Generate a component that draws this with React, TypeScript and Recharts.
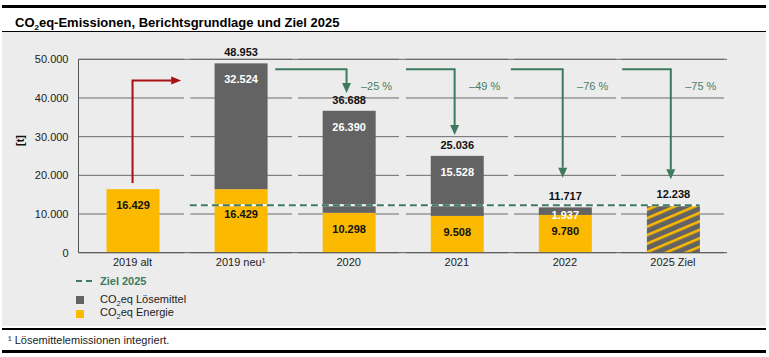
import React from 'react';
import { BarChart, Bar, XAxis, YAxis, CartesianGrid, ReferenceLine } from 'recharts';

// ---------- data ----------
const categories = ['2019 alt', '2019 neu¹', '2020', '2021', '2022', '2025 Ziel'];
const energie = [16429, 16429, 10298, 9508, 9780, null];
const loesemittel = [null, 32524, 26390, 15528, 1937, null];
const ziel2025 = [null, null, null, null, null, 12238];
const totals = [null, 48953, 36688, 25036, 11717, 12238];
const zielLine = 12238;
const yTicks = [0, 10000, 20000, 30000, 40000, 50000];
const reductionLabels = ['–25 %', '–49 %', '–76 %', '–75 %'];

// ---------- styles ----------
const FONT = '"Liberation Sans", Arial, Helvetica, sans-serif';
const YELLOW = '#fbb900';
const GRAY = '#636363';
const GREEN = '#3e7a5d';
const GREEN_TEXT = '#4a7d64';
const RED = '#a80f0f';
const PANEL = '#ececec';
const GRID = '#6a6a6a';

const fmt = (n: number) => String(n).replace(/\B(?=(\d{3})+(?!\d))/g, '.');

const chartData = categories.map((name, i) => ({
  name,
  energie: energie[i],
  loesemittel: loesemittel[i],
  ziel: ziel2025[i],
  total: totals[i],
}));

// annotation geometry: anchored to categories; offsets in fractions of a category band
const redArrow = { from: 0, to: 1, yStart: 18000, yTop: 44500, tipFrac: 0.45 };
const greenArrows = [
  { from: 1, to: 2, yTop: 47400, yTip: 41300, startFrac: 0.32 },
  { from: 2, to: 3, yTop: 47400, yTip: 30400, startFrac: 0.53 },
  { from: 3, to: 4, yTop: 47400, yTip: 19400, startFrac: 0.5 },
  { from: 4, to: 5, yTop: 47400, yTip: 19000, startFrac: 0.53 },
];

const norm = (p: any) => {
  const top = Math.min(p.y, p.y + p.height);
  const h = Math.abs(p.height);
  return { x: p.x, top, h, w: p.width };
};

const valid = (...v: any[]) => v.every((n) => typeof n === 'number' && !isNaN(n));

function EnergieShape(props: any) {
  const { payload } = props;
  if (!payload || payload.energie == null || !(Math.abs(props.height) > 0)) return null;
  const { x, top, h, w } = norm(props);
  // pixel position of the target line, from this bar's own scale
  const base = top + h;
  const lineY = base - (zielLine * h) / payload.energie;
  const crossed = payload.loesemittel != null && lineY > top;
  let cy = top + 16;
  if (crossed && Math.abs(cy - lineY) < 9) cy = lineY + 9;
  return (
    <g>
      <rect x={x} y={top} width={w} height={h} fill={YELLOW} />
      <text x={x + w / 2} y={cy + 4} textAnchor="middle" fontSize={11}
        fontWeight="bold" fill="#111" fontFamily={FONT}>{fmt(payload.energie)}</text>
    </g>
  );
}

function LoesemittelShape(props: any) {
  const { payload } = props;
  if (!payload || payload.loesemittel == null || !(Math.abs(props.height) > 0)) return null;
  const { x, top, h, w } = norm(props);
  return (
    <g>
      <rect x={x} y={top} width={w} height={h} fill={GRAY} />
      <text x={x + w / 2} y={top + Math.min(16, h) + 4} textAnchor="middle" fontSize={11}
        fontWeight="bold" fill="#fff" fontFamily={FONT}>{fmt(payload.loesemittel)}</text>
      {payload.total != null && (
        <text x={x + w / 2} y={top - 7} textAnchor="middle" fontSize={11}
          fontWeight="bold" fill="#111" fontFamily={FONT}>{fmt(payload.total)}</text>
      )}
    </g>
  );
}

function ZielShape(props: any) {
  const { payload } = props;
  if (!payload || payload.ziel == null || !(Math.abs(props.height) > 0)) return null;
  const { x, top, h, w } = norm(props);
  return (
    <g>
      <defs>
        <pattern id="hatchZiel" patternUnits="userSpaceOnUse" width="10" height="7.8"
          patternTransform="rotate(-23)">
          <rect x="0" y="0" width="10" height="7.8" fill={GRAY} />
          <rect x="0" y="0" width="10" height="2.6" fill={YELLOW} />
        </pattern>
      </defs>
      <rect x={x} y={top} width={w} height={h} fill="url(#hatchZiel)" />
      <text x={x + w / 2} y={top - 7} textAnchor="middle" fontSize={11}
        fontWeight="bold" fill="#111" fontFamily={FONT}>{fmt(payload.ziel)}</text>
    </g>
  );
}

const downArrow = (label: string, startFrac: number) => (p: any) => {
  const { x1, y1, x2, y2 } = p;
  if (!valid(x1, y1, x2, y2)) return null;
  const band = x2 - x1;
  const sx = x1 + startFrac * band;
  const cx = x2 - 0.02 * band;
  const hl = 10, hw = 4.5;
  return (
    <g>
      <path d={`M${sx},${y1} H${cx} V${y2 - hl}`} stroke={GREEN} strokeWidth={2} fill="none" />
      <polygon points={`${cx - hw},${y2 - hl} ${cx + hw},${y2 - hl} ${cx},${y2}`} fill={GREEN} />
      <text x={cx + 30} y={y1 + 21} textAnchor="middle" fontSize={11} fill={GREEN_TEXT}
        fontFamily={FONT}>{label}</text>
    </g>
  );
};

const upRightArrow = (tipFrac: number) => (p: any) => {
  const { x1, y1, x2, y2 } = p;
  if (!valid(x1, y1, x2, y2)) return null;
  const tx = x1 + tipFrac * (x2 - x1);
  const hl = 10, hw = 4;
  return (
    <g>
      <path d={`M${x1},${y1} V${y2} H${tx - hl}`} stroke={RED} strokeWidth={2} fill="none" />
      <polygon points={`${tx - hl},${y2 - hw} ${tx - hl},${y2 + hw} ${tx},${y2}`} fill={RED} />
    </g>
  );
};

const zielLineShape = (p: any) => {
  const { x1, y1, x2 } = p;
  if (!valid(x1, y1, x2)) return null;
  const band = (x2 - x1) / 4;
  const sx = x1 - 0.47 * band;
  const ex = x2 + 0.245 * band;
  return (
    <g>
      <line x1={sx} y1={y1} x2={ex} y2={y1} stroke="#ffffff" strokeWidth={2} />
      <line x1={sx} y1={y1} x2={ex} y2={y1} stroke={GREEN} strokeWidth={2} strokeDasharray="7 4" />
    </g>
  );
};

const Sub = ({ size = 7.5, top = 3 }: { size?: number; top?: number }) => (
  <span style={{ fontSize: size, position: 'relative', top, lineHeight: 0 }}>2</span>
);

export default function App() {
  return (
    <div style={{ position: 'absolute', left: 0, top: 0, width: 769, height: 357, background: '#fff', fontFamily: FONT, overflow: 'hidden' }}>
      {/* frame */}
      <div style={{ position: 'absolute', left: 2, top: 5, width: 764, height: 3, background: '#000' }} />
      <div style={{ position: 'absolute', left: 15, top: 14.5, fontSize: 13, lineHeight: '15px', fontWeight: 'bold', color: '#000', whiteSpace: 'nowrap' }}>
        CO<Sub size={8} top={3} />eq-Emissionen, Berichtsgrundlage und Ziel 2025
      </div>
      <div style={{ position: 'absolute', left: 2, top: 31, width: 764, height: 1, background: '#000' }} />
      <div style={{ position: 'absolute', left: 2, top: 32, width: 764, height: 294, background: PANEL }} />
      <div style={{ position: 'absolute', left: 2, top: 328, width: 764, height: 1.5, background: '#000' }} />
      <div style={{ position: 'absolute', left: 8, top: 333.6, fontSize: 11, lineHeight: '13px', color: '#222', whiteSpace: 'nowrap' }}>
        ¹ Lösemittelemissionen integriert.
      </div>
      <div style={{ position: 'absolute', left: 2, top: 350, width: 764, height: 3, background: '#000' }} />

      {/* y label */}
      <div style={{ position: 'absolute', left: 9.5, top: 133.5, width: 20, height: 13, lineHeight: '13px', fontSize: 11, fontWeight: 'bold', textAlign: 'center', transform: 'rotate(-90deg)', color: '#111' }}>
        [t]
      </div>

      {/* chart */}
      <div style={{ position: 'absolute', left: 0, top: 0 }}>
        <BarChart width={769} height={357} data={chartData} barSize={53}
          margin={{ top: 59.3, right: 42, bottom: 74.3, left: 18 }}>
          <CartesianGrid vertical={false} stroke={GRID}
            strokeDasharray="105.5 6.5 101.5 6 101 7 102 6 102 5 103 20" />
          <XAxis dataKey="name" tickLine={false} axisLine={{ stroke: '#555' }}
            tickSize={3} tickMargin={2} interval={0}
            tick={{ fill: '#222', fontSize: 11, fontFamily: FONT }} />
          <YAxis domain={[0, 50000]} ticks={yTicks} width={60.5} tickLine={false}
            tickSize={6} tickMargin={4} axisLine={{ stroke: '#555' }}
            tickFormatter={(v: number) => fmt(v)}
            tick={{ fill: '#222', fontSize: 11, fontFamily: FONT }} />
          <Bar dataKey="energie" stackId="a" fill={YELLOW} shape={EnergieShape} isAnimationActive={false} />
          <Bar dataKey="loesemittel" stackId="a" fill={GRAY} shape={LoesemittelShape} isAnimationActive={false} />
          <Bar dataKey="ziel" stackId="a" fill={GRAY} shape={ZielShape} isAnimationActive={false} />
          <ReferenceLine y={50000} stroke={GRID} strokeWidth={1} />
          <ReferenceLine
            segment={[{ x: categories[1], y: zielLine }, { x: categories[5], y: zielLine }]}
            shape={zielLineShape} ifOverflow="visible" />
          <ReferenceLine
            segment={[{ x: categories[redArrow.from], y: redArrow.yStart }, { x: categories[redArrow.to], y: redArrow.yTop }]}
            shape={upRightArrow(redArrow.tipFrac)} ifOverflow="visible" />
          {greenArrows.map((a, i) => (
            <ReferenceLine key={i}
              segment={[{ x: categories[a.from], y: a.yTop }, { x: categories[a.to], y: a.yTip }]}
              shape={downArrow(reductionLabels[i], a.startFrac)} ifOverflow="visible" />
          ))}
        </BarChart>
      </div>

      {/* legend */}
      <svg style={{ position: 'absolute', left: 76, top: 279.7 }} width={16} height={2}>
        <line x1={0} y1={1} x2={16} y2={1} stroke={GREEN} strokeWidth={2} strokeDasharray="6 4" />
      </svg>
      <div style={{ position: 'absolute', left: 100, top: 274.6, fontSize: 11, lineHeight: '13px', fontWeight: 'bold', color: GREEN, whiteSpace: 'nowrap' }}>
        Ziel 2025
      </div>
      <div style={{ position: 'absolute', left: 76, top: 296, width: 8, height: 8, background: GRAY }} />
      <div style={{ position: 'absolute', left: 100, top: 292.6, fontSize: 11, lineHeight: '13px', color: '#222', whiteSpace: 'nowrap' }}>
        CO<Sub />eq Lösemittel
      </div>
      <div style={{ position: 'absolute', left: 76, top: 309.5, width: 8, height: 8, background: YELLOW }} />
      <div style={{ position: 'absolute', left: 100, top: 306.3, fontSize: 11, lineHeight: '13px', color: '#222', whiteSpace: 'nowrap' }}>
        CO<Sub />eq Energie
      </div>
    </div>
  );
}
